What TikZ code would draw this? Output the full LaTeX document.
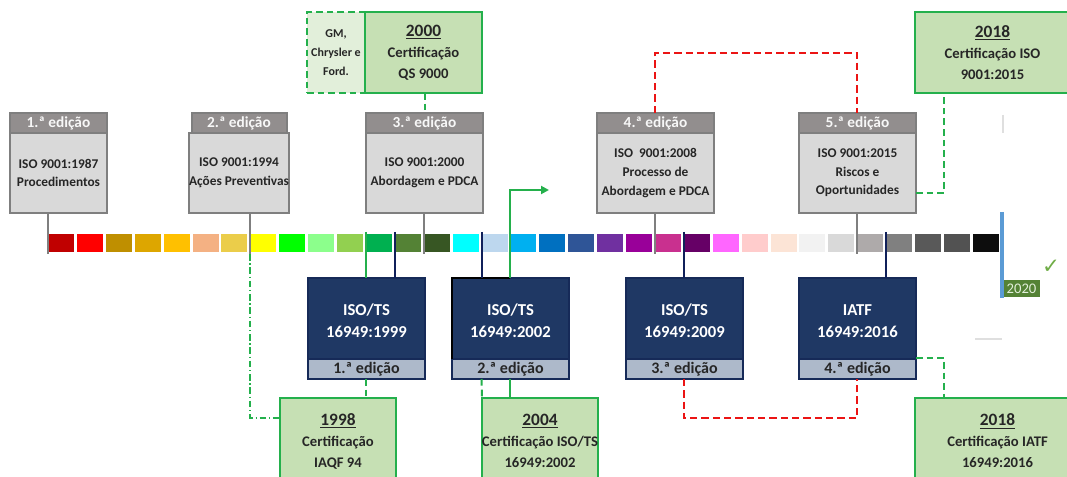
\documentclass[tikz,border=0pt]{standalone}
\usepackage{fontspec}
\setmainfont{Carlito}
\newfontfamily\symfont{DejaVu Sans}
\usetikzlibrary{arrows.meta}
\newcommand\myfs[2]{\fontsize{#1}{#2}\selectfont}
\definecolor{ghead}{RGB}{146,142,142}
\definecolor{gbody}{RGB}{217,217,217}
\definecolor{gline}{RGB}{127,127,127}
\definecolor{gtext}{RGB}{38,38,38}
\definecolor{navy}{RGB}{31,56,100}
\definecolor{navyb}{RGB}{22,42,88}
\definecolor{navyline}{RGB}{16,32,90}
\definecolor{strip}{RGB}{173,185,202}
\definecolor{cgreen}{RGB}{36,176,76}
\definecolor{cfill}{RGB}{198,224,180}
\definecolor{gmfill}{RGB}{226,239,218}
\definecolor{tagc}{RGB}{84,130,53}
\definecolor{bluel}{RGB}{91,155,213}
\definecolor{checkc}{RGB}{112,173,71}
\definecolor{rline}{RGB}{235,20,20}
\begin{document}
\begin{tikzpicture}[x=0.75pt,y=-0.75pt,
  wh/.style 2 args={minimum width=#1*0.75pt, minimum height=#2*0.75pt},
  every node/.style={inner sep=0pt, outer sep=0pt},
  sqr/.style={anchor=north west, wh={26}{18}},
  ghd/.style={draw=gline, line width=1.5pt, fill=ghead, text=white!94!gray,
    font=\bfseries\myfs{11.5}{13}, anchor=north},
  gbd/.style={draw=gline, line width=1.5pt, fill=gbody, text=gtext,
    font=\bfseries\myfs{10}{14}, align=center, anchor=north},
  nbox/.style={draw=navyb, line width=1.5pt, fill=navy, anchor=north west},
  nstrip/.style={draw=navyb, line width=1.5pt, fill=strip, text=gtext,
    font=\bfseries\myfs{12}{13}, anchor=south},
  ntext/.style={text=white, font=\bfseries\myfs{12.5}{16.5}, align=center},
  cbox/.style={draw=cgreen, line width=2pt, fill=cfill, anchor=north west},
  ctext/.style={text=gtext, font=\bfseries\myfs{11}{15.75}, align=center},
  gmbox/.style={draw=cgreen, line width=1.8pt, dash pattern=on 5pt off 3pt,
    fill=gmfill, anchor=north west, text=gtext, font=\bfseries\myfs{9}{14}, align=center},
  gconn/.style={draw=gline, line width=1.5pt},
  nconn/.style={draw=navyline, line width=1.5pt},
  gsol/.style={draw=cgreen, line width=1.5pt},
  gdash/.style={draw=cgreen, line width=1.5pt, dash pattern=on 5pt off 3pt},
  gdashdot/.style={draw=cgreen, line width=1.5pt, dash pattern=on 5pt off 2pt on 1pt off 2pt},
  rdash/.style={draw=rline, line width=1.5pt, dash pattern=on 5.5pt off 3pt},
]
\useasboundingbox (0,0) rectangle (1067,477);
\clip (0,0) rectangle (1067,477);
\fill[white] (0,0) rectangle (1067,477);

% colour bar
\foreach \c [count=\i] in {C00000,FF0000,BF8F00,DDA600,FFC000,F4B183,EBCD4A,FFFF00,00FF00,8CFF8C,92D050,00B050,548235,375623,00FFFF,BDD7EE,00B0F0,0070C0,2F5597,7030A0,990099,C9308F,660066,FF66FF,FFCCCC,FCE4D6,F2F2F2,D9D9D9,AEAAAA,808080,595959,525252,0D0D0D} {
  \definecolor{bar\i}{HTML}{\c}
  \node[sqr, fill=bar\i] (sq\i) at ({48+28.9*(\i-1)},234) {};
}

% top grey edition boxes
\node[ghd, wh={97}{20}] (h1) at (58.5,113) {1.ª edição};
\node[gbd, wh={97}{80}] (e1) at (58.5,133) {ISO 9001:1987\\Procedimentos};
\node[ghd, wh={95}{20}] (h2) at (239,113) {2.ª edição};
\node[gbd, wh={95}{80}] (e2) at (239,133) {ISO 9001:1994\\Ações Preventivas};
\node[ghd, wh={117}{20}] (h3) at (424.5,113) {3.ª edição};
\node[gbd, wh={117}{80}] (e3) at (424.5,133) {ISO 9001:2000\\Abordagem e PDCA};
\node[ghd, wh={117}{20}] (h4) at (655.5,113) {4.ª edição};
\node[gbd, wh={117}{80}] (e4) at (655.5,133) {ISO\hspace{0.45em}9001:2008\\Processo de\\Abordagem e PDCA};
\node[ghd, wh={117}{20}] (h5) at (857.5,113) {5.ª edição};
\node[gbd, wh={117}{80}] (e5) at (857.5,133) {ISO 9001:2015\\Riscos e\\Oportunidades};

% top green boxes
\node[gmbox, wh={58}{81}] (gm) at (307,12) {GM,\\Chrysler e\\Ford.};
\node[cbox, wh={117}{81}, ctext] (c00) at (365,12) {{\myfs{13}{15.75}\underline{2000}}\\Certificação\\QS 9000};
\node[cbox, wh={155}{81}, ctext, anchor=north west] (c18a) at (915,12) {{\myfs{13}{15.75}\underline{2018}}\\Certificação ISO\\9001:2015};

% navy boxes
\foreach \n/\x/\a/\b/\ed in {1/308/ISO\slash TS/16949:1999/1,2/452/ISO\slash TS/16949:2002/2,3/626/ISO\slash TS/16949:2009/3,4/799/IATF/16949:2016/4} {
  \node[nbox, wh={117}{101}] (t\n) at (\x,278) {};
  \node[nstrip, wh={117}{20}] (s\n) at (t\n.south) {\ed.ª edição};
  \node[ntext] (n\n) at ([yshift=5.6pt]t\n.center) {\a\\\b};
}
\draw[black, line width=1.2pt] (t2.north -| sq17.west) -- (t2.north west) -- (t2.west |- s2.north);

% bottom green boxes
\node[cbox, wh={116}{100}] (c98) at (280,398) {};
\node[ctext] (x98) at ([yshift=-32.25pt]c98.north) {{\myfs{13}{15.75}\underline{1998}}\\Certificação\\IAQF 94};
\node[cbox, wh={116}{100}] (c04) at (482,398) {};
\node[ctext] (x04) at ([yshift=-32.25pt]c04.north) {{\myfs{13}{15.75}\underline{2004}}\\Certificação ISO/TS\\16949:2002};
\node[cbox, wh={165}{100}] (c18b) at (915,398) {};
\node[ctext] (x18) at ([yshift=-32.25pt]c18b.north) {{\myfs{13}{15.75}\underline{2018}}\\Certificação IATF\\16949:2016};

% grey connectors to the bar
\draw[gconn] (e1.south -| sq1.west) -- ([yshift=-1.5pt]sq1.south west);
\draw[gconn] (e2.south -| sq8.west) -- ([yshift=-1.5pt]sq8.south west);
\draw[gconn] (e3.south -| sq14.west) -- ([yshift=-1.5pt]sq14.south west);
\draw[gconn] (e4.south -| sq22.west) -- ([yshift=-1.5pt]sq22.south west);
\draw[gconn] (e5.south -| sq29.west) -- ([yshift=-1.5pt]sq29.south west);

% navy and green connectors from the bar
\draw[gsol] ([yshift=1.5pt]sq12.north west) -- (sq12.west |- t1.north);
\draw[nconn] ([yshift=1.5pt]sq13.north west) -- (sq13.west |- t1.north);
\draw[nconn] ([yshift=1.5pt]sq16.north west) -- (sq16.west |- t2.north);
\draw[nconn] ([yshift=1.5pt]sq23.north west) -- (sq23.west |- t3.north);
\draw[nconn] ([yshift=1.5pt]sq30.north west) -- (sq30.west |- t4.north);
\coordinate (arr) at (549,190);
\draw[gsol, -{Triangle[length=6pt,width=6pt]}] (t2.north -| sq17.west) |- (arr);

% certification links
\draw[gdash] (c00.south -| h3.north) -- (h3.north);
\draw[gdash] (t1.south -| sq12.west) -- (c98.north -| sq12.west);
\draw[gdash] (t2.south -| sq16.west) -- (c04.north west);
\draw[gsol] (t2.south -| sq17.west) -- (c04.north -| sq17.west);
\draw[gdashdot] ([yshift=-1.5pt]sq8.south west) |- ([yshift=-15pt]c98.north west);
\draw[gdash] ([yshift=-15pt]e5.east) -| ([xshift=21.75pt]c18a.south west);
\draw[gdash] ([yshift=-22pt]t4.east) -| ([xshift=21.75pt]c18b.north west);

% red links
\draw[rdash] (h4.north -| sq22.west) -- ++(0,-60) -| (h5.north -| sq29.west);
\draw[rdash] (t3.south -| sq23.west) -- ++(0,39) -| (t4.south -| sq29.west);

% 2020 marker
\coordinate (blt) at (1002,212);
\coordinate (blb) at (1002,298);
\draw[bluel, line width=2.4pt] (blt) -- (blb);
\node[fill=tagc, text=gmfill, font=\myfs{11}{12}, anchor=north west, wh={36}{17}] (y2020) at (1003.5,280) {2020};
\node[text=checkc, font=\symfont\bfseries\myfs{16}{16}] (chk) at (1051,267) {✓};
\draw[gray!25, line width=1pt] (975,339) -- (1002,339);
\draw[gray!25, line width=1pt] (1003,115) -- (1003,133);
\end{tikzpicture}
\end{document}
